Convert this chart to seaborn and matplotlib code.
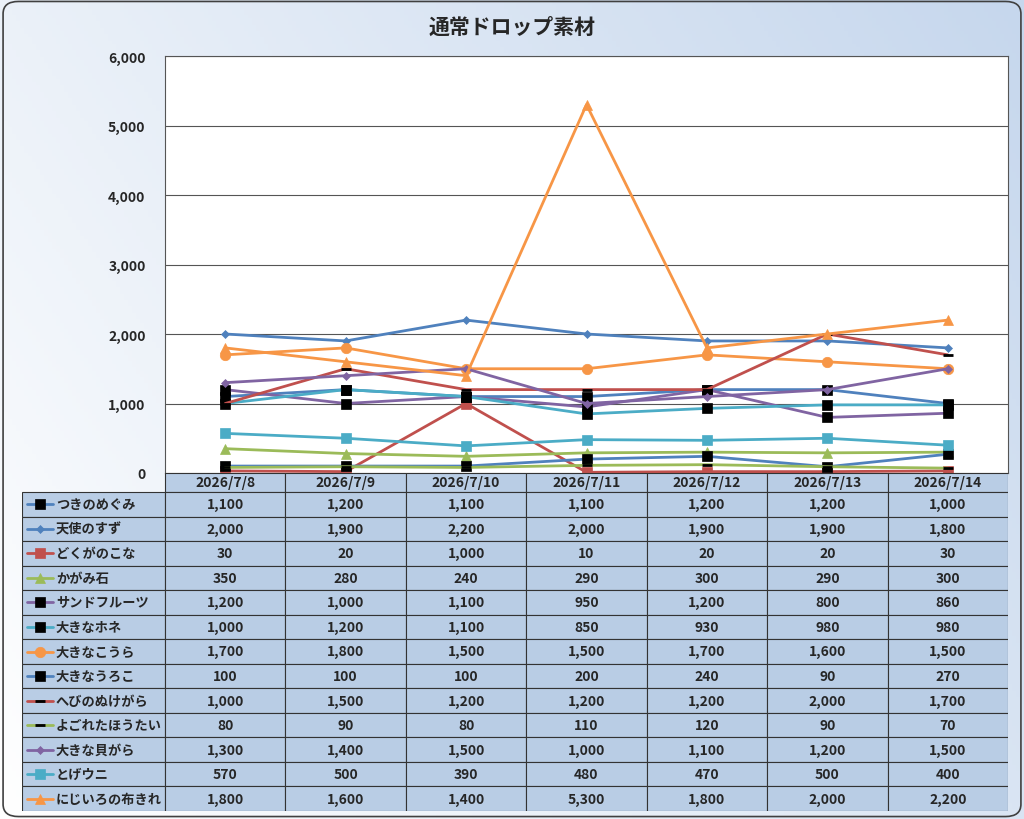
import numpy as np
import pandas as pd
import matplotlib
matplotlib.use("Agg")
import matplotlib.pyplot as plt
import seaborn as sns
from matplotlib.patches import FancyBboxPatch, Rectangle
from matplotlib.lines import Line2D
from matplotlib.colors import LinearSegmentedColormap

sns.set_theme(style="white")
plt.rcParams['font.family'] = ['Noto Sans CJK JP', 'DejaVu Sans']

dates = ["2026/7/8", "2026/7/9", "2026/7/10", "2026/7/11", "2026/7/12", "2026/7/13", "2026/7/14"]
names = ["つきのめぐみ", "天使のすず", "どくがのこな", "かがみ石", "サンドフルーツ", "大きなホネ",
         "大きなこうら", "大きなうろこ", "へびのぬけがら", "よごれたほうたい", "大きな貝がら", "とげウニ", "にじいろの布きれ"]
tsukinomegumi = [1100, 1200, 1100, 1100, 1200, 1200, 1000]
tenshinosuzu = [2000, 1900, 2200, 2000, 1900, 1900, 1800]
dokuganokona = [30, 20, 1000, 10, 20, 20, 30]
kagamiishi = [350, 280, 240, 290, 300, 290, 300]
sandfruit = [1200, 1000, 1100, 950, 1200, 800, 860]
ookinahone = [1000, 1200, 1100, 850, 930, 980, 980]
ookinakoura = [1700, 1800, 1500, 1500, 1700, 1600, 1500]
ookinaueoko = [100, 100, 100, 200, 240, 90, 270]
hebinonukegara = [1000, 1500, 1200, 1200, 1200, 2000, 1700]
yogoretahoutai = [80, 90, 80, 110, 120, 90, 70]
ookinakaigara = [1300, 1400, 1500, 1000, 1100, 1200, 1500]
togeuni = [570, 500, 390, 480, 470, 500, 400]
nijiironunokire = [1800, 1600, 1400, 5300, 1800, 2000, 2200]
values = [tsukinomegumi, tenshinosuzu, dokuganokona, kagamiishi, sandfruit, ookinahone, ookinakoura,
          ookinaueoko, hebinonukegara, yogoretahoutai, ookinakaigara, togeuni, nijiironunokire]

B, R, G, P, C, O = "#4F81BD", "#C0504D", "#9BBB59", "#8064A2", "#4BACC6", "#F79646"
styles = [  # line color, marker, marker color, marker size
    (B, "s", "black", 6.5), (B, "D", B, 4.5), (R, "s", R, 6.5), (G, "^", G, 6.5), (P, "s", "black", 6.5),
    (C, "s", "black", 6.5), (O, "o", O, 7.5), (B, "s", "black", 6.5), (R, "_", "black", 7),
    (G, "_", "black", 7), (P, "D", P, 4.5), (C, "s", C, 7), (O, "^", O, 7.5)]

fig = plt.figure(figsize=(10.24, 8.2), dpi=100)
bgax = fig.add_axes([0, 0, 1, 1], zorder=-10)
xx, yy = np.meshgrid(np.linspace(0, 1, 256), np.linspace(0, 1, 256))
grad = 0.65 * xx + 0.35 * (1 - yy)
cm = LinearSegmentedColormap.from_list("g", ["#FFFFFF", "#C6D7ED"])
bgax.imshow(grad, aspect="auto", cmap=cm, extent=[0, 1, 0, 1], origin="upper")
bgax.add_patch(FancyBboxPatch((0.003, 0.003), 0.994, 0.994, boxstyle="round,pad=0,rounding_size=0.015",
                              fill=False, ec="#404040", lw=1.2, transform=bgax.transAxes))
bgax.set_xlim(0, 1); bgax.set_ylim(0, 1); bgax.axis("off")

fig.text(0.5, 0.967, "通常ドロップ素材", ha="center", va="center", fontsize=15, fontweight="bold")

ax = fig.add_axes([165/1024, 1-474/820, 843/1024, 417/820])
ax.set_facecolor("white")
for i, (nm, v) in enumerate(zip(names, values)):
    lc, mk, mc, ms = styles[i]
    df = pd.DataFrame({"x": np.arange(len(dates)), "y": v})
    sns.lineplot(data=df, x="x", y="y", ax=ax, color=lc, lw=2, marker=mk, markersize=ms,
                 markerfacecolor=mc, markeredgecolor=mc, markeredgewidth=2 if mk == "_" else 0.5)
ax.set_xlim(-0.5, len(dates) - 0.5)
ax.set_ylim(0, 6000)
ax.set_yticks(range(0, 6001, 1000))
ax.set_yticklabels([f"{t:,}" for t in range(0, 6001, 1000)], fontsize=10, fontweight="bold")
ax.set_xticks([])
ax.set_xlabel(""); ax.set_ylabel("")
ax.grid(axis="y", color="#555555", lw=0.8)
for s in ax.spines.values():
    s.set_color("#555555"); s.set_linewidth(0.8)
ax.tick_params(axis="y", length=0, pad=14)

# data table
tax = fig.add_axes([22/1024, 1-812/820, 986/1024, 338/820])
W = 986.0
lab = 143.0
colw = (W - lab) / len(dates)
hh = 19.0
rh = (338 - hh) / len(names)
tax.set_xlim(0, W); tax.set_ylim(338, 0); tax.axis("off")
ec = "#333333"
for j, d in enumerate(dates):
    x0 = lab + j * colw
    tax.add_patch(Rectangle((x0, 0), colw, hh, fc="#B9CDE5", ec=ec, lw=0.8))
    tax.text(x0 + colw/2, hh/2, d, ha="center", va="center", fontsize=10, fontweight="bold")
for i, nm in enumerate(names):
    y0 = hh + i * rh
    tax.add_patch(Rectangle((0, y0), lab, rh, fc="#B9CDE5", ec=ec, lw=0.8))
    lc, mk, mc, ms = styles[i]
    tax.add_line(Line2D([5, 31], [y0 + rh/2]*2, color=lc, lw=2))
    tax.add_line(Line2D([18], [y0 + rh/2], marker=mk, color=mc, markersize=ms,
                        markeredgewidth=2 if mk == "_" else 0.5))
    tax.text(34, y0 + rh/2, nm, ha="left", va="center", fontsize=9.5, fontweight="bold")
    for j, v in enumerate(values[i]):
        x0 = lab + j * colw
        tax.add_patch(Rectangle((x0, y0), colw, rh, fc="#B9CDE5", ec=ec, lw=0.8))
        tax.text(x0 + colw/2, y0 + rh/2, f"{v:,}", ha="center", va="center", fontsize=10, fontweight="bold")

fig.savefig("out.png", dpi=100)
